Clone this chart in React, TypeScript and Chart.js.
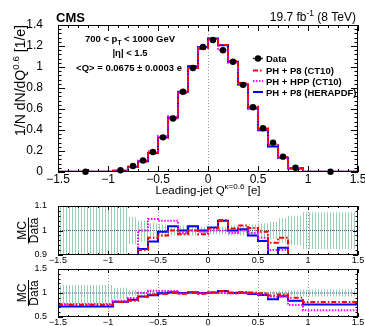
import React, { useEffect, useRef } from 'react';
import { Chart, registerables } from 'chart.js';
Chart.register(...registerables);

const FONT = "'Liberation Sans', Arial, Helvetica, sans-serif";

// ---------------- data ----------------
const binEdges = [-1.5, -0.95, -0.8, -0.7, -0.6, -0.5, -0.4, -0.3, -0.2, -0.1, 0, 0.1, 0.2, 0.3, 0.4, 0.5, 0.6, 0.7, 0.8, 0.95, 1.5];
const binCenters = [-1.225, -0.875, -0.75, -0.65, -0.55, -0.45, -0.35, -0.25, -0.15, -0.05, 0.05, 0.15, 0.25, 0.35, 0.45, 0.55, 0.65, 0.75, 0.875, 1.225];
const dataValues = [0.002, 0.016, 0.057, 0.11, 0.19, 0.33, 0.51, 0.765, 0.99, 1.19, 1.257, 1.16, 1.05, 0.83, 0.616, 0.416, 0.28, 0.146, 0.041, 0.002];
const mcP8CT10 = [0.0015, 0.013, 0.048, 0.101, 0.184, 0.323, 0.51, 0.754, 0.99, 1.172, 1.267, 1.21, 1.058, 0.847, 0.622, 0.414, 0.266, 0.142, 0.037, 0.0016];
const mcHppCT10 = [0.0015, 0.0134, 0.051, 0.11, 0.199, 0.343, 0.53, 0.757, 0.99, 1.184, 1.257, 1.16, 1.04, 0.83, 0.61, 0.404, 0.258, 0.134, 0.031, 0.0013];
const mcP8Hera = [0.0014, 0.013, 0.049, 0.102, 0.181, 0.328, 0.519, 0.765, 1.007, 1.19, 1.272, 1.206, 1.05, 0.834, 0.604, 0.398, 0.244, 0.136, 0.034, 0.0015];
const ratioP8CT10 = [0.75, 0.81, 0.84, 0.92, 0.97, 0.98, 1.0, 0.985, 1.0, 0.985, 1.008, 1.043, 1.008, 1.02, 1.01, 0.995, 0.95, 0.97, 0.9, 0.81];
const ratioHppCT10 = [0.77, 0.84, 0.895, 1.0, 1.047, 1.04, 1.04, 0.99, 1.0, 0.995, 1.0, 1.0, 0.99, 1.0, 0.99, 0.97, 0.92, 0.92, 0.75, 0.64];
const ratioP8Hera = [0.717, 0.82, 0.86, 0.925, 0.955, 0.995, 1.017, 1.0, 1.017, 1.0, 1.012, 1.04, 1.0, 1.005, 0.98, 0.957, 0.87, 0.93, 0.84, 0.76];
const bandUp = [0.165, 0.11, 0.055, 0.04, 0.03, 0.025, 0.02, 0.02, 0.02, 0.015, 0.015, 0.015, 0.02, 0.02, 0.025, 0.03, 0.035, 0.05, 0.06, 0.075];
const bandDown = [0.23, 0.12, 0.055, 0.045, 0.035, 0.025, 0.02, 0.02, 0.02, 0.015, 0.015, 0.015, 0.02, 0.02, 0.025, 0.03, 0.035, 0.05, 0.06, 0.075];

const seriesNames = ['Data', 'PH + P8 (CT10)', 'PH + HPP (CT10)', 'PH + P8 (HERAPDF)'];

const xTickValues = [-1.5, -1, -0.5, 0, 0.5, 1, 1.5];
const xTickLabels = ['\u22121.5', '\u22121', '\u22120.5', '0', '0.5', '1', '1.5'];
const mainYTickValues = [0, 0.2, 0.4, 0.6, 0.8, 1, 1.2, 1.4];
const mainYTickLabels = ['0', '0.2', '0.4', '0.6', '0.8', '1', '1.2', '1.4'];
const ratio1YTickValues = [0.9, 1, 1.1];
const ratio1YTickLabels = ['0.9', '1', '1.1'];
const ratio2YTickValues = [0.5, 1, 1.5];
const ratio2YTickLabels = ['0.5', '1', '1.5'];

const RED = '#ff0000';
const MAGENTA = '#ff00ff';
const BLUE = '#0000ff';
const RED_DASH = [5, 2, 1.5, 2];
const MAG_DASH = [1.5, 1.5];

// ---------------- helpers ----------------
type Seg = { t: string; sup?: boolean; sub?: boolean };
function drawRich(ctx: CanvasRenderingContext2D, segs: Seg[], x: number, y: number, size: number, weight: string, align: 'left' | 'center' | 'right') {
  const f = (s: number) => `${weight} ${s}px ${FONT}`;
  let total = 0;
  for (const s of segs) {
    ctx.font = f(s.sup || s.sub ? size * 0.7 : size);
    total += ctx.measureText(s.t).width;
  }
  let cx = align === 'left' ? x : align === 'center' ? x - total / 2 : x - total;
  ctx.textAlign = 'left';
  ctx.textBaseline = 'alphabetic';
  for (const s of segs) {
    ctx.font = f(s.sup || s.sub ? size * 0.7 : size);
    const dy = s.sup ? -size * 0.42 : s.sub ? size * 0.28 : 0;
    ctx.fillText(s.t, cx, y + dy);
    cx += ctx.measureText(s.t).width;
  }
}

function stepData(values: number[], lo = -Infinity, hi = Infinity) {
  return binEdges.map((e, i) => ({ x: e, y: Math.min(hi, Math.max(lo, values[Math.min(i, values.length - 1)])) }));
}

function hatch(): CanvasPattern | string {
  const c = document.createElement('canvas');
  c.width = 3; c.height = 4;
  const g = c.getContext('2d');
  if (!g) return 'rgba(130,200,160,0.4)';
  g.fillStyle = 'rgb(150,210,178)';
  g.fillRect(0, 0, 1, 4);
  const p = g.createPattern(c, 'repeat');
  return p || 'rgba(130,200,160,0.4)';
}

type Decor = {
  yMin: number; yMax: number; yMajors: number[]; yMinorStep: number;
  yMaj: number; yMin_: number; xMaj: number; xMin_: number;
  grid: number[]; xLabelSize: number; xLabelPad: number;
  extra?: (ctx: CanvasRenderingContext2D, chart: any) => void;
};

function decorPlugin(d: Decor) {
  return {
    id: 'rootDecor',
    beforeDraw(chart: any) {
      const { ctx, chartArea: a, scales } = chart;
      ctx.save();
      ctx.strokeStyle = '#999';
      ctx.lineWidth = 1;
      ctx.setLineDash([1, 2]);
      for (const g of d.grid) {
        const px = Math.round(scales.x.getPixelForValue(g)) + 0.5;
        ctx.beginPath(); ctx.moveTo(px, a.top); ctx.lineTo(px, a.bottom); ctx.stroke();
      }
      ctx.restore();
    },
    afterDraw(chart: any) {
      const { ctx, chartArea: a, scales } = chart;
      ctx.save();
      ctx.strokeStyle = '#000';
      ctx.lineWidth = 1;
      ctx.setLineDash([]);
      ctx.beginPath();
      for (let k = -15; k <= 15; k++) {
        const v = k / 10;
        const major = k % 5 === 0;
        const len = major ? d.xMaj : d.xMin_;
        const px = Math.round(scales.x.getPixelForValue(v)) + 0.5;
        ctx.moveTo(px, a.bottom); ctx.lineTo(px, a.bottom - len);
        ctx.moveTo(px, a.top); ctx.lineTo(px, a.top + len);
      }
      const n = Math.round((d.yMax - d.yMin) / d.yMinorStep);
      for (let k = 0; k <= n; k++) {
        const v = d.yMin + k * d.yMinorStep;
        const major = d.yMajors.some((m) => Math.abs(m - v) < 1e-6);
        const len = major ? d.yMaj : d.yMin_;
        const py = Math.round(scales.y.getPixelForValue(v)) + 0.5;
        ctx.moveTo(a.left, py); ctx.lineTo(a.left + len, py);
        ctx.moveTo(a.right, py); ctx.lineTo(a.right - len, py);
      }
      ctx.stroke();
      ctx.strokeRect(a.left + 0.5, a.top + 0.5, a.right - a.left - 1, a.bottom - a.top - 1);
      // x tick labels
      ctx.fillStyle = '#000';
      ctx.font = `${d.xLabelSize}px ${FONT}`;
      ctx.textAlign = 'center';
      ctx.textBaseline = 'top';
      xTickValues.forEach((v, i) => {
        ctx.fillText(xTickLabels[i], scales.x.getPixelForValue(v), a.bottom + d.xLabelPad);
      });
      if (d.extra) d.extra(ctx, chart);
      ctx.restore();
    },
  };
}

function scalesFor(yMin: number, yMax: number, yVals: number[], yLabels: string[], fontSize: number, yPad: number) {
  return {
    x: {
      type: 'linear', min: -1.5, max: 1.5,
      grid: { display: false }, border: { display: false },
      afterFit: (s: any) => { s.height = 9; s.paddingLeft = 0; s.paddingRight = 0; },
      ticks: { display: false },
    },
    y: {
      type: 'linear', min: yMin, max: yMax,
      grid: { display: false }, border: { display: false },
      afterBuildTicks: (s: any) => { s.ticks = yVals.map((v) => ({ value: v })); },
      afterFit: (s: any) => { s.width = 58; s.paddingTop = 0; s.paddingBottom = 0; },
      ticks: { autoSkip: false, padding: yPad, color: '#000', font: { family: FONT, size: fontSize }, callback: (_v: any, i: number) => yLabels[i] },
    },
  } as any;
}

const lineBase = { pointRadius: 0, tension: 0, stepped: true, fill: false } as any;

function mainConfig(): any {
  const extra = (ctx: CanvasRenderingContext2D) => {
    ctx.fillStyle = '#000';
    drawRich(ctx, [{ t: 'CMS' }], 56, 22, 13, 'bold', 'left');
    drawRich(ctx, [{ t: '19.7 fb' }, { t: '-1', sup: true }, { t: ' (8 TeV)' }], 356, 21, 12, 'normal', 'right');
    drawRich(ctx, [{ t: '700 < p' }, { t: 'T', sub: true }, { t: ' < 1000 GeV' }], 130, 42, 9.5, 'bold', 'center');
    drawRich(ctx, [{ t: '|\u03b7| < 1.5' }], 130, 56, 9.5, 'bold', 'center');
    drawRich(ctx, [{ t: '<Q> = 0.0675 \u00b1 0.0003 e' }], 129, 71, 9.5, 'bold', 'center');
    drawRich(ctx, [{ t: 'Leading-jet Q' }, { t: '\u03ba=0.6', sup: true }, { t: ' [e]' }], 208, 194, 11.5, 'normal', 'center');
    ctx.save();
    ctx.translate(25, 25);
    ctx.rotate(-Math.PI / 2);
    drawRich(ctx, [{ t: '1/N dN/dQ' }, { t: '0.6', sup: true }, { t: ' [1/e]' }], 0, 0, 14, 'normal', 'right');
    ctx.restore();
    // legend
    const rows = [58.5, 70.5, 81, 92];
    const x0 = 253, x1 = 263;
    rows.forEach((ry, i) => {
      ctx.save();
      if (i === 0) {
        ctx.strokeStyle = '#223'; ctx.lineWidth = 1.5; ctx.setLineDash([]);
        ctx.beginPath(); ctx.moveTo(x0, ry); ctx.lineTo(x1, ry); ctx.stroke();
        ctx.fillStyle = '#000';
        ctx.beginPath(); ctx.arc((x0 + x1) / 2, ry, 3.2, 0, Math.PI * 2); ctx.fill();
      } else {
        const col = [RED, MAGENTA, BLUE][i - 1];
        const dash = [RED_DASH, MAG_DASH, []][i - 1];
        ctx.strokeStyle = col; ctx.lineWidth = 2; ctx.setLineDash(dash);
        ctx.beginPath(); ctx.moveTo(x0, ry); ctx.lineTo(x1, ry); ctx.stroke();
      }
      ctx.restore();
      ctx.fillStyle = '#000';
      drawRich(ctx, [{ t: seriesNames[i] }], 266, ry + 3.5, 9.5, 'bold', 'left');
    });
  };
  return {
    type: 'line',
    data: {
      datasets: [
        { label: seriesNames[0], data: binCenters.map((x, i) => ({ x, y: dataValues[i] })), showLine: false, pointRadius: 3.2, pointBackgroundColor: '#000', pointBorderColor: '#000', pointBorderWidth: 0, clip: false },
        { ...lineBase, label: seriesNames[1], data: stepData(mcP8CT10), borderColor: RED, borderWidth: 2, borderDash: RED_DASH },
        { ...lineBase, label: seriesNames[2], data: stepData(mcHppCT10), borderColor: MAGENTA, borderWidth: 2, borderDash: MAG_DASH },
        { ...lineBase, label: seriesNames[3], data: stepData(mcP8Hera), borderColor: BLUE, borderWidth: 2 },
      ],
    },
    options: {
      responsive: false, animation: false, events: [],
      layout: { padding: { left: 0, right: 7, top: 25, bottom: 145 } },
      plugins: { legend: { display: false }, tooltip: { enabled: false } },
      scales: scalesFor(0, 1.4, mainYTickValues, mainYTickLabels, 12, 7),
    },
    plugins: [decorPlugin({ yMin: 0, yMax: 1.4, yMajors: mainYTickValues, yMinorStep: 0.04, yMaj: 7, yMin_: 3.5, xMaj: 6, xMin_: 3, grid: [0], xLabelSize: 12, xLabelPad: 2, extra })],
  };
}

function ratioConfig(lo: number, hi: number, yVals: number[], yLabels: string[], minorStep: number, top: number, bottom: number): any {
  const pat = hatch();
  const cy = (top + (326 - 9 - bottom)) / 2;
  const extra = (ctx: CanvasRenderingContext2D) => {
    ctx.save();
    ctx.translate(28, cy);
    ctx.rotate(-Math.PI / 2);
    ctx.fillStyle = '#000';
    drawRich(ctx, [{ t: 'MC' }], 0, -2, 12, 'normal', 'center');
    drawRich(ctx, [{ t: 'Data' }], 0, 10, 12, 'normal', 'center');
    ctx.strokeStyle = '#000'; ctx.lineWidth = 1;
    ctx.beginPath(); ctx.moveTo(-13, 0.5); ctx.lineTo(13, 0.5); ctx.stroke();
    ctx.restore();
  };
  return {
    type: 'line',
    data: {
      datasets: [
        { ...lineBase, label: seriesNames[1], data: stepData(ratioP8CT10, lo, hi), borderColor: RED, borderWidth: 2, borderDash: RED_DASH },
        { ...lineBase, label: seriesNames[2], data: stepData(ratioHppCT10, lo, hi), borderColor: MAGENTA, borderWidth: 2, borderDash: MAG_DASH },
        { ...lineBase, label: seriesNames[3], data: stepData(ratioP8Hera, lo, hi), borderColor: BLUE, borderWidth: 2 },
        { ...lineBase, stepped: false, label: 'unity', data: [{ x: -1.5, y: 1 }, { x: 1.5, y: 1 }], borderColor: 'rgba(50,60,160,0.85)', borderWidth: 1, borderDash: [1, 1] },
        { ...lineBase, label: 'bandLow', data: stepData(bandDown.map((d) => 1 - d), lo, hi), borderWidth: 0, borderColor: 'rgba(0,0,0,0)' },
        { ...lineBase, label: 'bandHigh', data: stepData(bandUp.map((d) => 1 + d), lo, hi), borderWidth: 0, borderColor: 'rgba(0,0,0,0)', fill: '-1', backgroundColor: pat },
      ],
    },
    options: {
      responsive: false, animation: false, events: [],
      layout: { padding: { left: 0, right: 7, top, bottom } },
      plugins: { legend: { display: false }, tooltip: { enabled: false }, filler: { drawTime: 'beforeDatasetsDraw' } },
      scales: scalesFor(lo, hi, yVals, yLabels, 9, 3),
    },
    plugins: [decorPlugin({ yMin: lo, yMax: hi, yMajors: yVals, yMinorStep: minorStep, yMaj: 5, yMin_: 2.5, xMaj: 4, xMin_: 2, grid: [-1, -0.5, 0, 0.5, 1], xLabelSize: 9, xLabelPad: 1, extra })],
  };
}

export default function App() {
  const mainRef = useRef<HTMLCanvasElement>(null);
  const r1Ref = useRef<HTMLCanvasElement>(null);
  const r2Ref = useRef<HTMLCanvasElement>(null);
  useEffect(() => {
    const charts: Chart[] = [];
    if (mainRef.current) charts.push(new Chart(mainRef.current, mainConfig()));
    if (r1Ref.current) charts.push(new Chart(r1Ref.current, ratioConfig(0.9, 1.1, ratio1YTickValues, ratio1YTickLabels, 0.02, 206, 62)));
    if (r2Ref.current) charts.push(new Chart(r2Ref.current, ratioConfig(0.5, 1.5, ratio2YTickValues, ratio2YTickLabels, 0.1, 269, 0)));
    return () => charts.forEach((c) => c.destroy());
  }, []);
  const cs: React.CSSProperties = { position: 'absolute', left: 0, top: 0 };
  return (
    <div style={{ position: 'absolute', left: 0, top: 0, width: 365, height: 326, background: '#fff' }}>
      <canvas ref={r2Ref} width={365} height={326} style={cs} />
      <canvas ref={r1Ref} width={365} height={326} style={cs} />
      <canvas ref={mainRef} width={365} height={326} style={cs} />
    </div>
  );
}
